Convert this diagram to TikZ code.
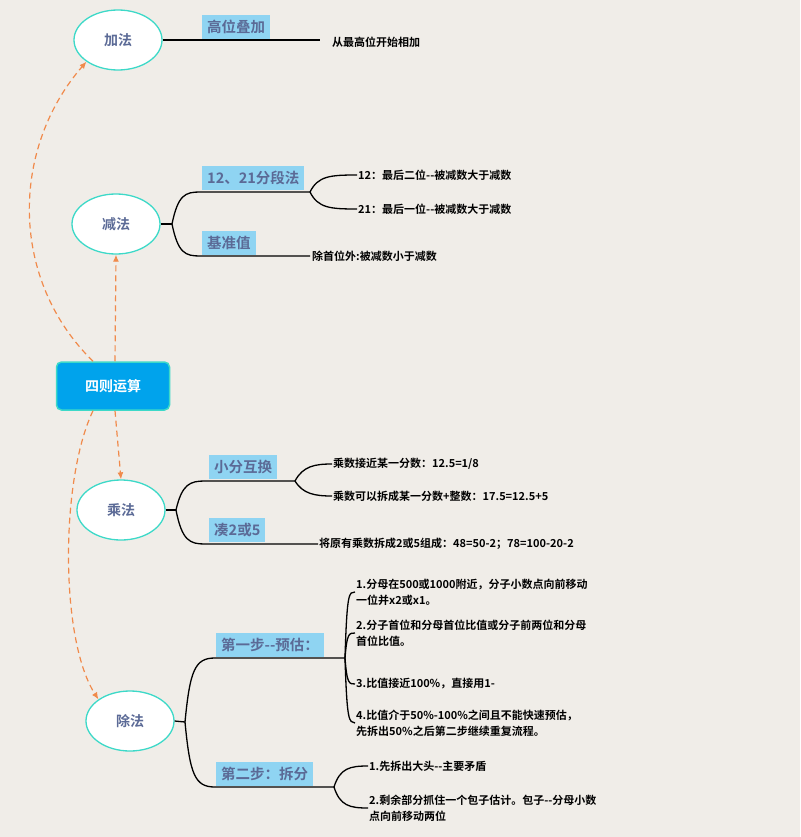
\documentclass[tikz,border=0pt]{standalone}
\usepackage{fontspec}
\setmainfont{Noto Sans CJK SC}[BoldFont={Noto Sans CJK SC Bold}]
\newfontfamily\cjkb{Noto Sans CJK SC Bold}
\definecolor{bg}{HTML}{F0EDE8}
\definecolor{lab}{HTML}{5B6A96}
\definecolor{tagbg}{HTML}{8FD4F2}
\definecolor{ora}{HTML}{F08A4B}
\definecolor{teal}{HTML}{3DD9C8}
\definecolor{ctr}{HTML}{00A3EC}
\begin{document}
\begin{tikzpicture}[x=1pt,y=-1pt,
  ell/.style={ellipse,draw=teal,line width=1.3pt,fill=white,minimum width=88pt,minimum height=60pt,font=\cjkb\fontsize{14}{16}\selectfont,text=lab},
  tag/.style={fill=tagbg,anchor=south west,inner xsep=5pt,inner ysep=2pt,minimum height=24pt,font=\cjkb\fontsize{14.5}{16}\selectfont,text=lab},
  leaf/.style={anchor=west,font=\cjkb\fontsize{11}{16}\selectfont,align=left,inner sep=1pt},
  br/.style={line width=1.3pt,black},
  dsh/.style={ora,line width=1.2pt,dashed,dash pattern=on 6pt off 4pt,-{Latex[length=7pt,width=6pt]}}]
\usetikzlibrary{shapes.geometric,arrows.meta}
\fill[bg] (0,0) rectangle (800,837);
\useasboundingbox (0,0) rectangle (800,837);
% center
\node[draw=teal,line width=1.5pt,fill=ctr,rounded corners=5pt,minimum width=113pt,minimum height=48pt,text=white,font=\cjkb\fontsize{14}{16}\selectfont] (c) at (113,386) {四则运算};
\node[ell] (add) at (118,40) {加法};
\node[ell] (sub) at (116,224) {减法};
\node[ell] (mul) at (121,510) {乘法};
\node[ell] (div) at (130,721) {除法};
% dashed arrows
\draw[dsh] ([xshift=-20pt]c.north) .. controls (10,280) and (10,150) .. (add.south west);
\draw[dsh] ([xshift=2pt]c.north) -- (sub.south);
\draw[dsh] ([xshift=2pt]c.south) -- (mul.north);
\draw[dsh] ([xshift=-20pt]c.south) .. controls (60,480) and (60,640) .. (div.north west);
% 加法
\node[tag] (t1) at (202,39) {高位叠加};
\node[leaf] (l1) at (331,42) {从最高位开始相加};
\draw[br] (add.east) -- (320,40);
% 减法
\node[tag] (t2) at (202,190) {12、21分段法};
\node[tag] (t3) at (202,255) {基准值};
\coordinate (s1) at (310,192);
\draw[br] (sub.east) -- (172,224);
\draw[br] (172,224) .. controls (178,195) and (185,192) .. (200,192) -- (s1);
\draw[br] (172,224) .. controls (178,253) and (185,256) .. (200,256) -- (310,256);
\node[leaf] (l21) at (357,175) {12：最后二位--被减数大于减数};
\node[leaf] (l22) at (357,209) {21：最后一位--被减数大于减数};
\node[leaf] (l23) at (311,256) {除首位外:被减数小于减数};
\draw[br] (s1) .. controls (318,176) and (330,175) .. (l21.west);
\draw[br] (s1) .. controls (318,208) and (330,209) .. (l22.west);
% 乘法
\node[tag] (t4) at (209,479) {小分互换};
\node[tag] (t5) at (209,542) {凑2或5};
\draw[br] (mul.east) -- (176,510);
\draw[br] (176,510) .. controls (182,484) and (190,481) .. (205,481) -- (295,481);
\draw[br] (176,510) .. controls (182,541) and (190,544) .. (205,544) -- (318,544);
\node[leaf] (l31) at (332,464) {乘数接近某一分数：12.5=1/8};
\node[leaf] (l32) at (332,496) {乘数可以拆成某一分数+整数：17.5=12.5+5};
\node[leaf] (l33) at (318,544) {将原有乘数拆成2或5组成：48=50-2；78=100-20-2};
\draw[br] (295,481) .. controls (303,466) and (315,464) .. (l31.west);
\draw[br] (295,481) .. controls (303,494) and (315,496) .. (l32.west);
% 除法
\node[tag] (t6) at (216,657) {第一步--预估：};
\node[tag] (t7) at (216,786) {第二步：拆分};
\draw[br] (div.east) -- (185,722);
\draw[br] (185,722) .. controls (190,670) and (195,658) .. (215,658) -- (345,658);
\draw[br] (185,722) .. controls (190,775) and (195,787) .. (215,787) -- (334,787);
\node[leaf] (l41) at (355,592) {1.分母在500或1000附近，分子小数点向前移动\\一位并x2或x1。};
\node[leaf] (l42) at (355,633) {2.分子首位和分母首位比值或分子前两位和分母\\首位比值。};
\node[leaf] (l43) at (355,684) {3.比值接近100\%，直接用1-};
\node[leaf] (l44) at (355,723) {4.比值介于50\%-100\%之间且不能快速预估，\\先拆出50\%之后第二步继续重复流程。};
\foreach \n/\y in {l41/592,l42/633,l43/684,l44/722}
  \draw[br] (345,658) .. controls (347,\y) and (349,\y) .. (\n.west);
\node[leaf] (l51) at (368,766) {1.先拆出大头--主要矛盾};
\node[leaf] (l52) at (368,808) {2.剩余部分抓住一个包子估计。包子--分母小数\\点向前移动两位};
\draw[br] (334,787) .. controls (340,768) and (350,766) .. (l51.west);
\draw[br] (334,787) .. controls (340,806) and (350,808) .. (l52.west);
\end{tikzpicture}
\end{document}
